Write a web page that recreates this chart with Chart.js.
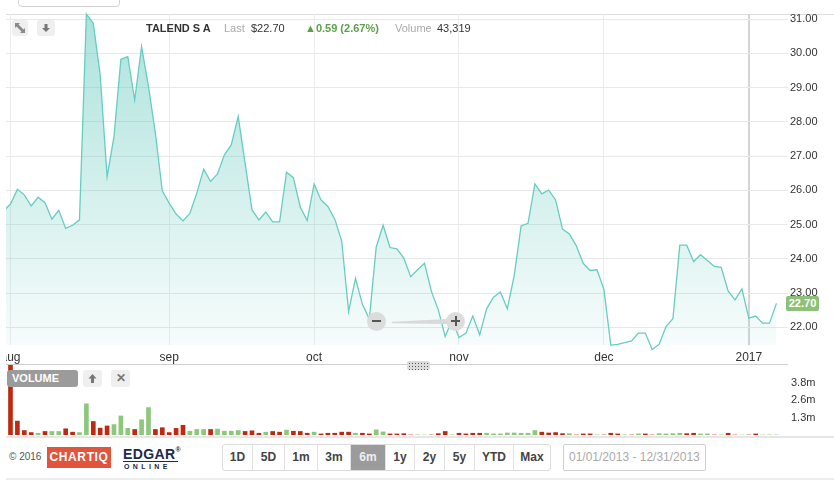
<!DOCTYPE html>
<html>
<head>
<meta charset="utf-8">
<script src="https://cdn.jsdelivr.net/npm/chart.js@4.4.1/dist/chart.umd.min.js"></script>
<style>
  html, body { margin: 0; padding: 0; background: #fff; }
  body { width: 834px; height: 481px; position: relative; overflow: hidden;
         font-family: 'Liberation Sans', Arial, sans-serif; color: #333; }
  .abs { position: absolute; }
  canvas { position: absolute; }
  .hdr { position: absolute; top: 21px; font-size: 11px; line-height: 14px; white-space: nowrap; }
  .btns { position: absolute; left: 222px; top: 444px; height: 25px; border: 1px solid #dcdcdc;
          border-radius: 3px; display: flex; overflow: hidden; }
  .btns span { display: block; height: 25px; line-height: 25px; text-align: center; font-weight: bold;
               font-size: 12px; color: #444; border-left: 1px solid #e2e2e2;
               font-family: 'Liberation Sans Narrow', 'Liberation Sans', Arial, sans-serif; }
  .btns span:first-child { border-left: none; }
  .btns span.on { background: #9b9b9b; color: #eee; }
  .sq { position: absolute; background: #efefef; border-radius: 3px; }
</style>
</head>
<body>

<!-- chrome round the chart -->
<div class="abs" style="left:18px;top:-6px;width:100px;height:11px;border:1px solid #d2d2d2;border-radius:0 0 4px 4px;"></div>
<div class="abs" style="left:6px;top:14px;width:828px;height:1px;background:#dedede;"></div>

<canvas id="price" width="828" height="364" style="left:6px;top:0;"></canvas>
<canvas id="volume" width="828" height="76" style="left:6px;top:362px;"></canvas>

<div class="sq" style="left:12px;top:20px;width:16px;height:16px;">
  <svg width="16" height="16" viewBox="0 0 16 16">
    <path d="M3 3h5L6.5 4.5 9 7 7 9 4.5 6.5 3 8z M13 13H8l1.5-1.5L7 9l2-2 2.5 2.5L13 8z" fill="#8a8a8a"/>
  </svg>
</div>
<div class="sq" style="left:37px;top:20px;width:18px;height:16px;">
  <svg width="18" height="16" viewBox="0 0 18 16">
    <path d="M7.5 4h3v4h2.5L9 12 5 8h2.5z" fill="#777"/>
  </svg>
</div>

<div class="hdr" style="left:146px;font-weight:bold;">TALEND S A</div>
<div class="hdr" style="left:224px;color:#aaa;">Last</div>
<div class="hdr" style="left:251px;">$22.70</div>
<div class="hdr" style="left:305px;color:#5f9f4c;font-weight:bold;">▲0.59 (2.67%)</div>
<div class="hdr" style="left:395px;color:#aaa;">Volume</div>
<div class="hdr" style="left:437px;">43,319</div>

<!-- zoom controls -->
<div class="abs" style="left:392px;top:319px;width:56px;height:5px;background:#d9d9d9;clip-path:polygon(0 55%,100% 0,100% 100%,0 85%);"></div>
<div class="abs" style="left:367px;top:312px;width:19px;height:19px;border-radius:50%;background:#dcdcdc;"></div>
<div class="abs" style="left:372px;top:320px;width:9px;height:2px;background:#555;"></div>
<div class="abs" style="left:446px;top:312px;width:19px;height:19px;border-radius:50%;background:#dcdcdc;"></div>
<div class="abs" style="left:451px;top:320px;width:9px;height:2px;background:#555;"></div>
<div class="abs" style="left:455px;top:316px;width:2px;height:10px;background:#555;"></div>

<div id="tag" class="abs" style="left:786px;width:33px;height:15px;line-height:15px;background:#8cc177;border-radius:2px;color:#fff;font-weight:bold;font-size:11px;text-align:center;">22.70</div>

<!-- panel divider -->
<div class="abs" style="left:6px;top:364px;width:782px;height:1px;background:#cfcfcf;"></div>
<div class="abs" style="left:407px;top:361px;width:23px;height:9px;border-radius:2px;background:#dcdcdc radial-gradient(#555 0.7px, transparent 1px) 1px 1px/3px 3px;"></div>

<div class="abs" style="left:7px;top:370px;width:71px;height:17px;line-height:17px;background:#9b9b9b;border-radius:3px;color:#fff;font-weight:bold;font-size:11px;text-indent:5px;">VOLUME</div>
<div class="sq" style="left:83px;top:370px;width:19px;height:17px;">
  <svg width="19" height="17" viewBox="0 0 19 17"><path d="M9.5 4l4 4.5H11V13H8V8.5H5.5z" fill="#777"/></svg>
</div>
<div class="sq" style="left:111px;top:370px;width:19px;height:17px;text-align:center;line-height:17px;font-size:12px;font-weight:bold;color:#777;">✕</div>

<!-- footer -->
<div class="abs" style="left:6px;top:436px;width:828px;height:2px;background:#e6e6e6;"></div>
<div class="abs" style="left:6px;top:478px;width:828px;height:2px;background:#ececec;"></div>
<div class="abs" style="left:9px;top:451px;font-size:10px;color:#555;">© 2016</div>
<div class="abs" style="left:47px;top:447px;width:64px;height:21px;line-height:21px;background:#e0553b;color:#fff;font-weight:bold;font-size:12px;text-align:center;letter-spacing:0.6px;">CHARTIQ</div>
<div class="abs" style="left:123px;top:446px;font-size:14px;font-weight:bold;color:#1c2b4c;letter-spacing:0.4px;">EDGAR<span style="font-size:7px;vertical-align:top;">®</span></div>
<div class="abs" style="left:123px;top:461px;width:55px;height:1px;background:#1c2b4c;"></div>
<div class="abs" style="left:124px;top:463px;font-size:7px;font-weight:bold;color:#1c2b4c;letter-spacing:3.4px;">ONLINE</div>

<div class="btns">
  <span style="width:29px;">1D</span><span style="width:31px;">5D</span><span style="width:32px;">1m</span>
  <span style="width:32px;">3m</span><span class="on" style="width:34px;">6m</span><span style="width:28px;">1y</span>
  <span style="width:29px;">2y</span><span style="width:29px;">5y</span><span style="width:38px;">YTD</span>
  <span style="width:36px;">Max</span>
</div>
<div class="abs" style="left:563px;top:444px;width:141px;height:25px;line-height:25px;border:1px solid #cfcfcf;border-radius:2px;font-size:12px;color:#aaa;text-indent:5px;">01/01/2013 - 12/31/2013</div>

<script>
// daily closes, Jul 29 2016 .. Jan 9 2017 (one entry per trading day)
const prices = [
  25.40, 25.60, 26.03, 25.87, 25.55, 25.80, 25.64, 25.16, 25.42, 24.89,
  24.98, 25.14, 31.15, 30.88, 29.37, 26.40, 27.57, 29.83, 29.91, 28.64,
  30.20, 29.03, 27.67, 25.99, 25.63, 25.31, 25.11, 25.33, 25.92, 26.62,
  26.26, 26.48, 27.04, 27.33, 28.16, 26.79, 25.43, 25.14, 25.37, 25.08,
  25.08, 26.53, 26.37, 25.51, 25.12, 26.19, 25.72, 25.53, 25.16, 24.52,
  22.46, 23.43, 22.67, 22.24, 24.34, 24.98, 24.33, 24.29, 24.02, 23.48,
  23.68, 23.87, 23.05, 22.51, 21.73, 22.22, 21.70, 21.83, 22.33, 21.78,
  22.54, 22.88, 23.03, 22.54, 23.51, 24.96, 25.04, 26.19, 25.90, 26.01,
  25.72, 24.87, 24.73, 24.38, 23.87, 23.66, 23.68, 23.11, 21.48, 21.50,
  21.55, 21.60, 21.83, 21.83, 21.35, 21.50, 22.02, 22.25, 24.40, 24.40,
  23.92, 24.12, 23.95, 23.78, 23.75, 23.06, 22.80, 23.12, 22.27, 22.33,
  22.12, 22.12, 22.70
];

// daily volume, millions of shares
const volumes = [
  0.30, 6.50, 1.03, 0.33, 0.18, 0.13, 0.26, 0.26, 0.26, 0.46,
  0.21, 0.18, 2.31, 1.00, 0.51, 0.67, 0.77, 1.41, 0.49, 0.41,
  1.13, 2.03, 0.41, 0.54, 0.18, 0.49, 0.72, 0.28, 0.41, 0.41,
  0.41, 0.44, 0.28, 0.28, 0.33, 0.26, 0.31, 0.13, 0.21, 0.26,
  0.21, 0.36, 0.28, 0.26, 0.13, 0.21, 0.08, 0.13, 0.13, 0.21,
  0.21, 0.13, 0.13, 0.08, 0.38, 0.23, 0.08, 0.08, 0.10, 0.05,
  0.05, 0.03, 0.05, 0.10, 0.26, 0.05, 0.13, 0.08, 0.13, 0.13,
  0.13, 0.08, 0.08, 0.15, 0.15, 0.13, 0.13, 0.33, 0.21, 0.15,
  0.18, 0.10, 0.10, 0.05, 0.08, 0.08, 0.05, 0.05, 0.13, 0.08,
  0.05, 0.05, 0.08, 0.08, 0.05, 0.10, 0.08, 0.10, 0.13, 0.10,
  0.13, 0.08, 0.08, 0.05, 0.05, 0.13, 0.05, 0.03, 0.05, 0.08,
  0.03, 0.05, 0.04
];

// 1 = up day (green bar), 0 = down day (red bar)
const volumeUp = [
  0, 0, 0, 0, 0, 1, 0, 1, 1, 0,
  0, 1, 1, 0, 0, 0, 1, 1, 1, 0,
  1, 1, 0, 0, 0, 0, 0, 1, 1, 1,
  0, 1, 1, 1, 1, 0, 0, 0, 1, 0,
  0, 1, 0, 0, 0, 1, 0, 0, 0, 0,
  0, 1, 0, 0, 1, 1, 0, 0, 0, 0,
  1, 1, 0, 0, 0, 1, 0, 0, 0, 0,
  1, 1, 1, 1, 1, 1, 1, 1, 0, 0,
  0, 0, 1, 0, 0, 0, 1, 0, 0, 0,
  1, 0, 1, 0, 0, 1, 1, 1, 1, 0,
  0, 1, 1, 0, 1, 0, 0, 1, 0, 0,
  1, 1, 1
];

// first trading day of each month (index into the series) and its label
const monthTicks = [1, 24, 45, 66, 87, 108];
const monthLabels = ['aug', 'sep', 'oct', 'nov', 'dec', '2017'];
const priceTicks = [22, 23, 24, 25, 26, 27, 28, 29, 30, 31];
const volumeTicks = [1.28, 2.56, 3.84];

Chart.defaults.font.family = "'Liberation Sans', Arial, sans-serif";

// visible window of the series, in trading-day units
const xMin = 0.35;
const xMax = 113.68;

const teal = '#66cdc2';

const priceChart = new Chart(document.getElementById('price'), {
  type: 'line',
  data: {
    datasets: [{
      data: prices.map((v, i) => ({ x: i, y: v })),
      borderColor: teal,
      borderWidth: 1.3,
      pointRadius: 0,
      tension: 0,
      fill: 'start',
      clip: { left: 0, top: 2, right: 0, bottom: 6 },
      backgroundColor: (c) => {
        const area = c.chart.chartArea;
        if (!area) return 'rgba(102,205,194,0.3)';
        const g = c.chart.ctx.createLinearGradient(0, area.top, 0, area.bottom);
        g.addColorStop(0, 'rgba(96,200,188,0.52)');
        g.addColorStop(1, 'rgba(96,200,188,0.05)');
        return g;
      },
    }],
  },
  options: {
    responsive: false,
    animation: false,
    layout: { padding: { top: 14, left: 0, right: 0, bottom: 0 } },
    plugins: { legend: { display: false }, tooltip: { enabled: false } },
    scales: {
      x: {
        type: 'linear',
        min: xMin,
        max: xMax,
        offset: false,
        afterBuildTicks: (s) => { s.ticks = monthTicks.map(v => ({ value: v })); },
        afterFit: (s) => { s.height = 19; s.paddingLeft = 0; s.paddingRight = 0; },
        border: { display: false },
        grid: {
          drawTicks: false,
          color: (c) => (c.tick && c.tick.value === 108 ? '#d4d4d4' : '#ececec'),
          lineWidth: (c) => (c.tick && c.tick.value === 108 ? 2 : 1),
        },
        ticks: {
          padding: 5,
          autoSkip: false,
          maxRotation: 0,
          color: '#333',
          font: { size: 12 },
          callback: (v) => {
            const k = monthTicks.indexOf(v);
            return k >= 0 ? monthLabels[k] : '';
          },
        },
      },
      y: {
        position: 'right',
        min: 21.483,
        max: 31.153,
        afterBuildTicks: (s) => { s.ticks = priceTicks.map(v => ({ value: v })); },
        afterFit: (s) => { s.width = 46; s.paddingTop = 0; s.paddingBottom = 0; },
        border: { display: false },
        grid: { drawTicks: false, color: '#e8e8e8' },
        ticks: { padding: 2, color: '#333', font: { size: 11 }, callback: v => v.toFixed(2) },
      },
    },
  },
});

// last-price tag sits on the price scale
const lastY = priceChart.scales.y.getPixelForValue(prices[prices.length - 1]);
document.getElementById('tag').style.top = (lastY - 7.5) + 'px';

new Chart(document.getElementById('volume'), {
  type: 'bar',
  data: {
    datasets: [{
      data: volumes.map((v, i) => ({ x: i, y: v })),
      backgroundColor: volumes.map((v, i) => {
        if (volumeUp[i]) return v < 0.06 ? '#cfe6c6' : '#8dc77a';
        return v < 0.06 ? '#efb9ad' : '#bd2a10';
      }),
      barThickness: 4,
      borderWidth: 0,
    }],
  },
  options: {
    responsive: false,
    animation: false,
    layout: { padding: { top: 3, bottom: 3, left: 0, right: 0 } },
    plugins: { legend: { display: false }, tooltip: { enabled: false } },
    scales: {
      x: { type: 'linear', min: xMin, max: xMax, offset: false, display: false },
      y: {
        position: 'right',
        min: 0,
        max: 5.185,
        afterBuildTicks: (s) => { s.ticks = volumeTicks.map(v => ({ value: v })); },
        afterFit: (s) => { s.width = 46; s.paddingTop = 0; s.paddingBottom = 0; },
        border: { display: false },
        grid: { display: false, drawTicks: false },
        ticks: { padding: 3, color: '#333', font: { size: 11 }, callback: v => v.toFixed(1) + 'm' },
      },
    },
  },
});
</script>
</body>
</html>
